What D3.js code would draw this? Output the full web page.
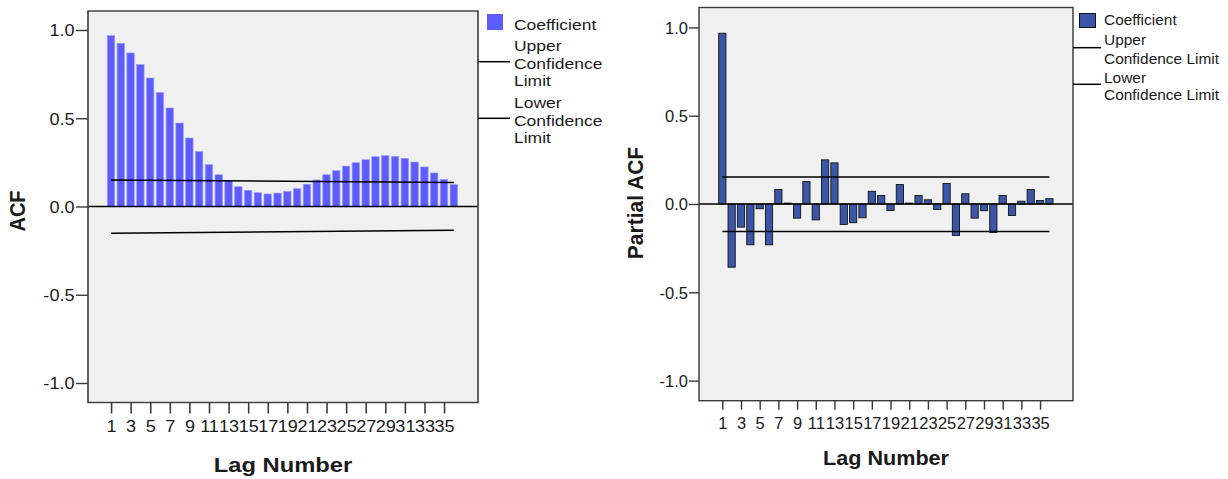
<!DOCTYPE html>
<html>
<head>
<meta charset="utf-8">
<script src="https://cdn.jsdelivr.net/npm/d3@7"></script>
<style>
  html, body { margin: 0; padding: 0; background: #ffffff; }
  svg { display: block; }
  text { font-family: "Liberation Sans", Arial, sans-serif; fill: #1a1a1a; }
</style>
</head>
<body>
<svg id="chart" width="1228" height="479"></svg>
<script>
// ---------------- DATA ----------------
const lags = d3.range(1, 37);               // lag numbers 1..36
const lagTickLabels = d3.range(1, 36, 2);   // 1,3,...,35
const yTickValues = [-1.0, -0.5, 0.0, 0.5, 1.0];

const acfValues = [
  0.968, 0.925, 0.870, 0.804, 0.728, 0.645, 0.558, 0.473, 0.388, 0.311,
  0.237, 0.180, 0.146, 0.112, 0.092, 0.078, 0.071, 0.076, 0.086, 0.101,
  0.126, 0.150, 0.180, 0.203, 0.229, 0.248, 0.265, 0.282, 0.288, 0.284,
  0.273, 0.252, 0.224, 0.190, 0.154, 0.124
];
const acfUpper = [ {lag: 1, v: 0.150}, {lag: 36, v: 0.136} ];
const acfLower = [ {lag: 1, v: -0.152}, {lag: 36, v: -0.135} ];

const pacfValues = [
  0.967, -0.358, -0.131, -0.231, -0.027, -0.231, 0.082, 0.005, -0.080, 0.127,
  -0.090, 0.250, 0.233, -0.116, -0.106, -0.078, 0.072, 0.048, -0.037, 0.110,
  0.005, 0.048, 0.024, -0.031, 0.116, -0.178, 0.058, -0.080, -0.038, -0.161,
  0.048, -0.065, 0.016, 0.082, 0.020, 0.030
];
const pacfUpper = [ {lag: 1, v: 0.153}, {lag: 36, v: 0.153} ];
const pacfLower = [ {lag: 1, v: -0.156}, {lag: 36, v: -0.156} ];

const xTitle = "Lag Number";
const legendCoef = "Coefficient";

// ---------------- DRAW ----------------
const svg = d3.select("#chart");

function drawChart(cfg) {
  const SX = cfg.sx;
  const X = p => p / SX;   // pixel -> local (horizontally stretched) coords
  const g = svg.append("g").attr("transform", `scale(${SX},1)`);

  const x = d3.scaleLinear().domain([1, 36]).range([X(cfg.lag1), X(cfg.lag36)]);
  const y = d3.scaleLinear().domain([-1, 1]).range([cfg.zero + cfg.unit, cfg.zero - cfg.unit]);

  // plot background
  g.append("rect")
    .attr("x", X(cfg.L)).attr("y", cfg.T)
    .attr("width", X(cfg.R) - X(cfg.L)).attr("height", cfg.B - cfg.T)
    .attr("fill", "#f0f0f0");

  // bars
  const bw = X(cfg.barW);
  g.append("g").selectAll("rect")
    .data(lags.map((l, i) => ({lag: l, v: cfg.values[i]})))
    .join("rect")
    .attr("x", d => x(d.lag) - bw / 2)
    .attr("y", d => y(Math.max(0, d.v)))
    .attr("width", bw)
    .attr("height", d => Math.max(0.8, Math.abs(y(d.v) - y(0))))
    .attr("fill", cfg.barFill)
    .attr("stroke", cfg.barStroke)
    .attr("stroke-width", cfg.barStrokeW);

  // zero line
  g.append("line")
    .attr("x1", X(cfg.L)).attr("x2", X(cfg.R))
    .attr("y1", y(0)).attr("y2", y(0))
    .attr("stroke", "#000").attr("stroke-width", 1.6);

  // confidence limits
  const line = d3.line().x(d => x(d.lag)).y(d => y(d.v));
  [cfg.upper, cfg.lower].forEach(arr => {
    g.append("path").attr("d", line(arr))
      .attr("fill", "none").attr("stroke", "#000").attr("stroke-width", 1.5);
  });

  // frame border
  g.append("rect")
    .attr("x", X(cfg.L)).attr("y", cfg.T)
    .attr("width", X(cfg.R) - X(cfg.L)).attr("height", cfg.B - cfg.T)
    .attr("fill", "none").attr("stroke", "#3a3a3a").attr("stroke-width", 1.4);

  // y axis
  const yAxis = g.append("g")
    .attr("transform", `translate(${X(cfg.L)},0)`)
    .call(d3.axisLeft(y).tickValues(yTickValues)
      .tickSize(X(cfg.yTick)).tickPadding(X(cfg.yPad))
      .tickFormat(d => d.toFixed(1)));
  yAxis.select(".domain").remove();
  yAxis.selectAll(".tick line").attr("stroke", "#3a3a3a").attr("stroke-width", 1.4);
  yAxis.selectAll(".tick text")
    .attr("font-size", 16).attr("font-family", "Liberation Sans, Arial, sans-serif")
    .attr("fill", "#1a1a1a").attr("dy", "0.36em");

  // x axis
  const xAxis = g.append("g")
    .attr("transform", `translate(0,${cfg.B})`)
    .call(d3.axisBottom(x).tickValues(lagTickLabels)
      .tickSize(cfg.xTick).tickFormat(d3.format("d")));
  xAxis.select(".domain").remove();
  xAxis.selectAll(".tick line").attr("stroke", "#3a3a3a").attr("stroke-width", 1.4);
  xAxis.selectAll(".tick text")
    .attr("font-size", 16).attr("font-family", "Liberation Sans, Arial, sans-serif")
    .attr("fill", "#1a1a1a").attr("dy", null).attr("y", cfg.xLabBase - cfg.B);

  // axis titles
  g.append("text")
    .attr("x", X(cfg.xTitleX)).attr("y", cfg.xTitleY)
    .attr("text-anchor", "middle").attr("font-weight", "bold").attr("font-size", 21)
    .text(xTitle);
  g.append("text")
    .attr("transform", `translate(${X(cfg.yTitleX)},${cfg.yTitleY}) rotate(-90)`)
    .attr("text-anchor", "middle").attr("font-weight", "bold").attr("font-size", cfg.yTitleSize)
    .text(cfg.yTitle);

  // legend
  const lg = g.append("g");
  lg.append("rect")
    .attr("x", X(cfg.sw.x)).attr("y", cfg.sw.y)
    .attr("width", X(cfg.sw.x + cfg.sw.w) - X(cfg.sw.x)).attr("height", cfg.sw.h)
    .attr("fill", cfg.barFill).attr("stroke", cfg.swStroke).attr("stroke-width", cfg.swStrokeW);
  lg.append("text").attr("x", X(cfg.legX)).attr("y", cfg.coefBase)
    .attr("font-size", cfg.legFont).text(legendCoef);
  cfg.legLines.forEach(ly => {
    lg.append("line").attr("x1", X(cfg.R)).attr("x2", X(cfg.legLineEnd))
      .attr("y1", ly).attr("y2", ly).attr("stroke", "#000").attr("stroke-width", 1.5);
  });
  cfg.legTexts.forEach(t => {
    lg.append("text").attr("x", X(cfg.legX)).attr("y", t.y)
      .attr("font-size", cfg.legFont).text(t.s);
  });
}

drawChart({
  sx: 1.13,
  L: 88, R: 478, T: 11, B: 402.5,
  zero: 206.5, unit: 176.5,
  lag1: 111, lag36: 453.8, barW: 7.4,
  values: acfValues, upper: acfUpper, lower: acfLower,
  barFill: "#5c5cff", barStroke: "#9a9aff", barStrokeW: 0.6,
  yTick: 12, yPad: 1.5, xTick: 11, xLabBase: 432,
  xTitleX: 283, xTitleY: 472,
  yTitle: "ACF", yTitleX: 25, yTitleY: 211, yTitleSize: 20,
  sw: {x: 487, y: 14, w: 16, h: 16}, swStroke: "none", swStrokeW: 0,
  legX: 514, coefBase: 30, legFont: 15.5,
  legLines: [61.7, 118.3], legLineEnd: 510,
  legTexts: [
    {s: "Upper", y: 51.5}, {s: "Confidence", y: 69}, {s: "Limit", y: 86.5},
    {s: "Lower", y: 108.5}, {s: "Confidence", y: 126}, {s: "Limit", y: 143.5}
  ]
});

drawChart({
  sx: 1.03,
  L: 699, R: 1073, T: 7.5, B: 400.7,
  zero: 204, unit: 176.6,
  lag1: 722.3, lag36: 1049.4, barW: 7.2,
  values: pacfValues, upper: pacfUpper, lower: pacfLower,
  barFill: "#3a56a8", barStroke: "#141414", barStrokeW: 0.9,
  yTick: 10, yPad: 1, xTick: 9, xLabBase: 429.5,
  xTitleX: 886, xTitleY: 465,
  yTitle: "Partial ACF", yTitleX: 643, yTitleY: 203, yTitleSize: 21,
  sw: {x: 1079.5, y: 13.5, w: 16, h: 14}, swStroke: "#141414", swStrokeW: 1,
  legX: 1104, coefBase: 25.5, legFont: 15,
  legLines: [47.7, 84.3], legLineEnd: 1101,
  legTexts: [
    {s: "Upper", y: 45.5}, {s: "Confidence Limit", y: 64},
    {s: "Lower", y: 83}, {s: "Confidence Limit", y: 100.5}
  ]
});
</script>
</body>
</html>
